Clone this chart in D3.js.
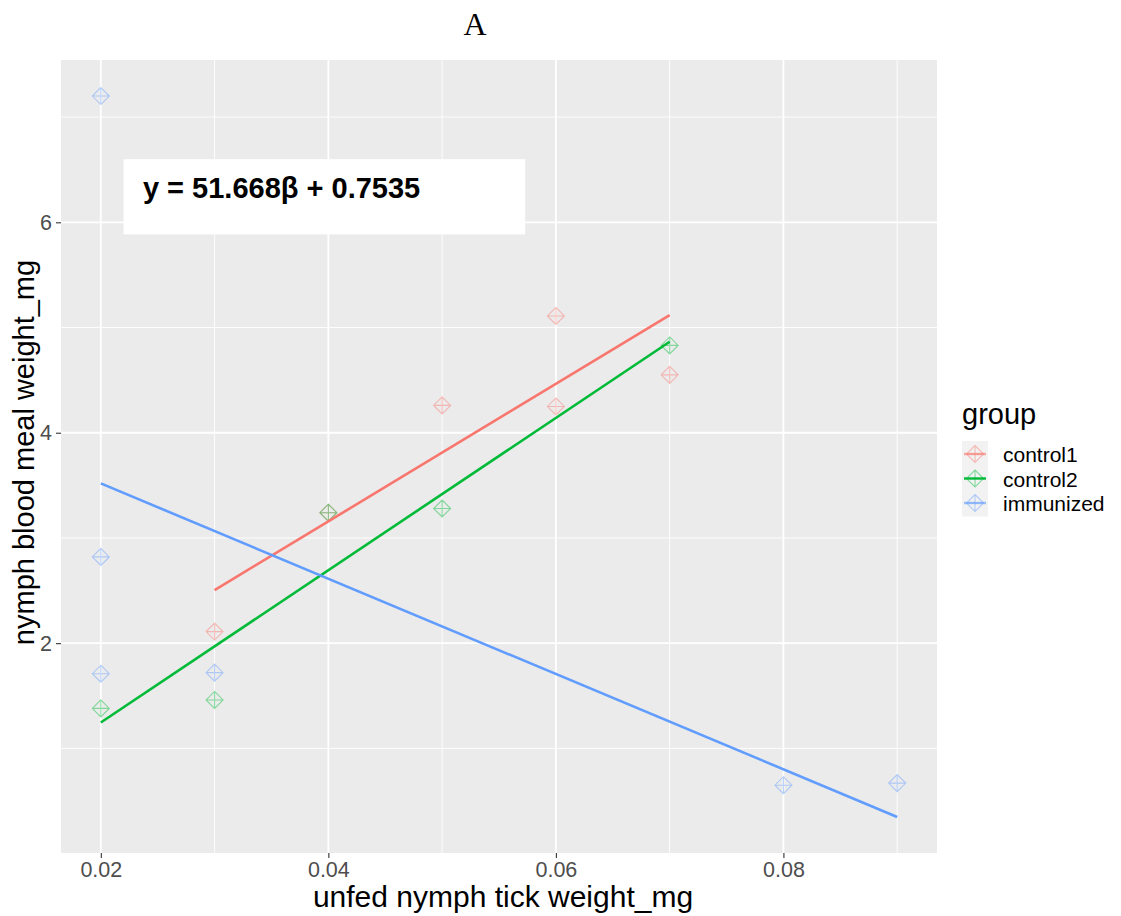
<!DOCTYPE html>
<html>
<head>
<meta charset="utf-8">
<script src="https://cdn.jsdelivr.net/npm/d3@7"></script>
<style>
  html, body { margin: 0; padding: 0; background: #fff; }
  svg { display: block; }
</style>
</head>
<body>
<svg id="chart" width="1121" height="916"></svg>
<script>
// Unfed nymph weight (mg) vs. blood meal weight (mg) by group
const groups = ["control1", "control2", "immunized"];
const groupColors = ["#F8766D", "#00BA38", "#619CFF"];

const control1X = [0.03, 0.04, 0.05, 0.06, 0.06, 0.07];
const control1Y = [2.11, 3.24, 4.26, 5.11, 4.25, 4.55];

const control2X = [0.02, 0.03, 0.04, 0.05, 0.07];
const control2Y = [1.38, 1.46, 3.24, 3.28, 4.83];

const immunizedX = [0.02, 0.02, 0.02, 0.03, 0.08, 0.09];
const immunizedY = [7.20, 2.82, 1.71, 1.72, 0.65, 0.67];

const xTicks = [0.02, 0.04, 0.06, 0.08];
const xMinor = [0.03, 0.05, 0.07, 0.09];
const yTicks = [2, 4, 6];
const yMinor = [1, 3, 5, 7];

const equationText = "y = 51.668\u03B2 + 0.7535";
const equationBox = { xmin: 0.0220, xmax: 0.0573, ymin: 5.885, ymax: 6.60 };
const equationAnchor = { x: 0.0237, y: 6.235 };

const seriesX = [control1X, control2X, immunizedX];
const seriesY = [control1Y, control2Y, immunizedY];

// Ordinary least squares fit, drawn across each group's x range
function linearFit(xs, ys) {
  const n = xs.length;
  const mx = d3.mean(xs), my = d3.mean(ys);
  let sxx = 0, sxy = 0;
  for (let i = 0; i < n; i++) {
    sxx += (xs[i] - mx) * (xs[i] - mx);
    sxy += (xs[i] - mx) * (ys[i] - my);
  }
  const slope = sxy / sxx;
  const intercept = my - slope * mx;
  const [x0, x1] = d3.extent(xs);
  return [[x0, intercept + slope * x0], [x1, intercept + slope * x1]];
}
const fits = seriesX.map((xs, i) => linearFit(xs, seriesY[i]));

const svg = d3.select("#chart");
const panel = { left: 61, right: 937, top: 60, bottom: 853 };

// ggplot-style 5% expansion of the combined data + fitted-line range
const allX = seriesX.flat();
const allY = seriesY.flat().concat(fits.flatMap(f => f.map(p => p[1])));
const [xlo, xhi] = d3.extent(allX);
const [ylo, yhi] = d3.extent(allY);
const xPad = (xhi - xlo) * 0.05, yPad = (yhi - ylo) * 0.05;

const x = d3.scaleLinear().domain([xlo - xPad, xhi + xPad]).range([panel.left, panel.right]);
const y = d3.scaleLinear().domain([ylo - yPad, yhi + yPad]).range([panel.bottom, panel.top]);

// Panel background
svg.append("rect")
  .attr("x", panel.left).attr("y", panel.top)
  .attr("width", panel.right - panel.left).attr("height", panel.bottom - panel.top)
  .attr("fill", "#EBEBEB");

const grid = svg.append("g");
grid.selectAll(".vminor").data(xMinor).join("line")
  .attr("x1", d => x(d)).attr("x2", d => x(d))
  .attr("y1", panel.top).attr("y2", panel.bottom)
  .attr("stroke", "#fff").attr("stroke-width", 0.9);
grid.selectAll(".hminor").data(yMinor).join("line")
  .attr("y1", d => y(d)).attr("y2", d => y(d))
  .attr("x1", panel.left).attr("x2", panel.right)
  .attr("stroke", "#fff").attr("stroke-width", 0.9);
grid.selectAll(".vmajor").data(xTicks).join("line")
  .attr("x1", d => x(d)).attr("x2", d => x(d))
  .attr("y1", panel.top).attr("y2", panel.bottom)
  .attr("stroke", "#fff").attr("stroke-width", 1.8);
grid.selectAll(".hmajor").data(yTicks).join("line")
  .attr("y1", d => y(d)).attr("y2", d => y(d))
  .attr("x1", panel.left).attr("x2", panel.right)
  .attr("stroke", "#fff").attr("stroke-width", 1.8);

// Equation label box
svg.append("rect")
  .attr("x", x(equationBox.xmin)).attr("y", y(equationBox.ymax))
  .attr("width", x(equationBox.xmax) - x(equationBox.xmin))
  .attr("height", y(equationBox.ymin) - y(equationBox.ymax))
  .attr("fill", "#fff");
svg.append("text")
  .attr("x", x(equationAnchor.x)).attr("y", y(equationAnchor.y))
  .attr("font-family", "Liberation Sans, Arial, sans-serif")
  .attr("font-weight", "bold").attr("font-size", 29)
  .attr("fill", "#000")
  .text(equationText);

// Diamond-with-cross point symbol (ggplot shape 9)
function diamondPath(cx, cy, r) {
  return `M${cx},${cy - r}L${cx + r},${cy}L${cx},${cy + r}L${cx - r},${cy}Z` +
         `M${cx - r},${cy}L${cx + r},${cy}M${cx},${cy - r}L${cx},${cy + r}`;
}

// Points
groups.forEach((g, i) => {
  svg.append("g").selectAll("path")
    .data(seriesX[i].map((xv, j) => [xv, seriesY[i][j]]))
    .join("path")
    .attr("d", d => diamondPath(x(d[0]), y(d[1]), 8.5))
    .attr("fill", "none")
    .attr("stroke", groupColors[i])
    .attr("stroke-width", 1.1)
    .attr("stroke-opacity", 0.45);
});

// Fitted lines
const lineGen = d3.line().x(d => x(d[0])).y(d => y(d[1]));
groups.forEach((g, i) => {
  svg.append("path")
    .attr("d", lineGen(fits[i]))
    .attr("fill", "none")
    .attr("stroke", groupColors[i])
    .attr("stroke-width", 2.6);
});

// Axes
const tickFont = "Liberation Sans, Arial, sans-serif";
const xAxis = svg.append("g")
  .attr("transform", `translate(0,${panel.bottom})`)
  .call(d3.axisBottom(x).tickValues(xTicks).tickFormat(d3.format(".2f")).tickSize(5).tickPadding(4));
const yAxis = svg.append("g")
  .attr("transform", `translate(${panel.left},0)`)
  .call(d3.axisLeft(y).tickValues(yTicks).tickFormat(d3.format("d")).tickSize(5).tickPadding(4));
[xAxis, yAxis].forEach(ax => {
  ax.select(".domain").remove();
  ax.selectAll(".tick line").attr("stroke", "#333333").attr("stroke-width", 1.1);
  ax.selectAll(".tick text")
    .attr("font-family", tickFont).attr("font-size", 21.5).attr("fill", "#4D4D4D");
});

// Axis titles
svg.append("text")
  .attr("x", (panel.left + panel.right) / 2 + 4).attr("y", 907)
  .attr("text-anchor", "middle")
  .attr("font-family", tickFont).attr("font-size", 30).attr("fill", "#000")
  .text("unfed nymph tick weight_mg");
svg.append("text")
  .attr("transform", `translate(34,${(panel.top + panel.bottom) / 2 - 4}) rotate(-90)`)
  .attr("text-anchor", "middle")
  .attr("font-family", tickFont).attr("font-size", 29).attr("fill", "#000")
  .text("nymph blood meal weight_mg");

// Title
svg.append("text")
  .attr("x", 475).attr("y", 35)
  .attr("text-anchor", "middle")
  .attr("font-family", "Liberation Serif, Times New Roman, serif")
  .attr("font-size", 32).attr("fill", "#000")
  .text("A");

// Legend
const legend = svg.append("g").attr("transform", "translate(962,0)");
legend.append("text")
  .attr("x", 0).attr("y", 424)
  .attr("font-family", tickFont).attr("font-size", 29).attr("fill", "#000")
  .text("group");
const keyTop = 441, keyH = 24.5, keyW = 26;
legend.append("rect")
  .attr("x", 0).attr("y", keyTop)
  .attr("width", keyW).attr("height", keyH * groups.length + 2)
  .attr("fill", "#F2F2F2");
groups.forEach((g, i) => {
  const cy = keyTop + 13 + i * keyH;
  legend.append("line")
    .attr("x1", 2).attr("x2", keyW - 2).attr("y1", cy).attr("y2", cy)
    .attr("stroke", groupColors[i]).attr("stroke-width", 2.4).attr("stroke-opacity", i === 1 ? 1 : 0.6);
  legend.append("path")
    .attr("d", diamondPath(keyW / 2, cy, 8.5))
    .attr("fill", "none").attr("stroke", groupColors[i])
    .attr("stroke-width", 1.1).attr("stroke-opacity", 0.45);
  legend.append("text")
    .attr("x", 41).attr("y", cy + 8)
    .attr("font-family", tickFont).attr("font-size", 21).attr("fill", "#000")
    .text(g);
});
</script>
</body>
</html>
